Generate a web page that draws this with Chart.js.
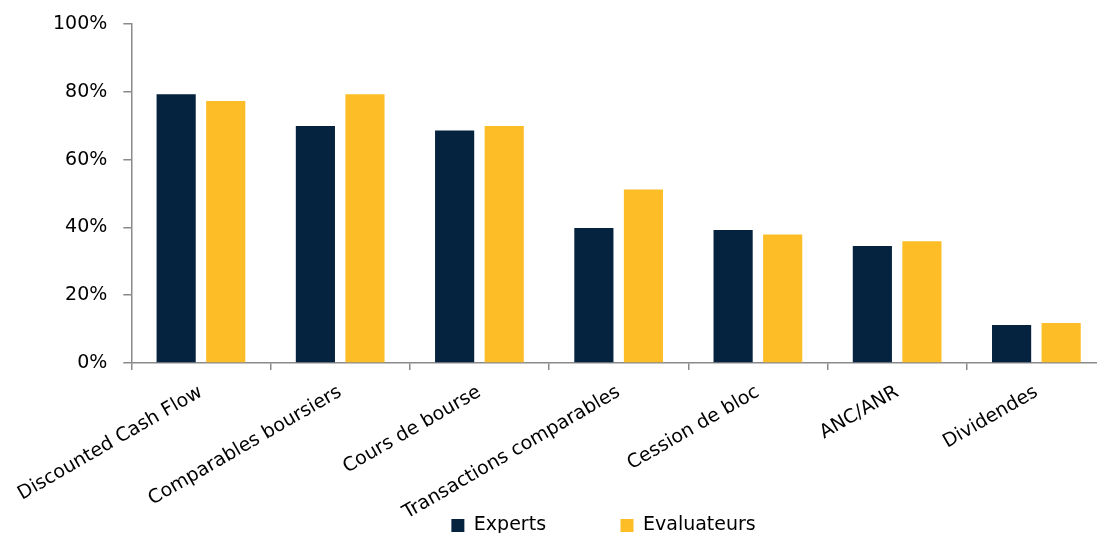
<!DOCTYPE html>
<html>
<head>
<meta charset="utf-8">
<script src="https://cdn.jsdelivr.net/npm/chart.js@4.4.1/dist/chart.umd.min.js"></script>
<style>
  html, body { margin: 0; padding: 0; overflow: hidden; background: #fff; }
</style>
</head>
<body>
<canvas id="chart" width="1110" height="545"></canvas>
<script>
const categories = ['Discounted Cash Flow', 'Comparables boursiers', 'Cours de bourse',
    'Transactions comparables', 'Cession de bloc', 'ANC/ANR', 'Dividendes'];
const experts = [79.3, 69.9, 68.6, 39.8, 39.2, 34.5, 11.2];
const evaluateurs = [77.3, 79.3, 69.9, 51.2, 37.9, 35.9, 11.8];
const yTicks = [0, 20, 40, 60, 80, 100];

const axisGrey = '#8a8a8a';
const font = { family: 'DejaVu Sans', size: 19 };

// spaces pad the legend items so they sit where the original legend had them
const legendPad = [12, 5];

const ctx = document.getElementById('chart').getContext('2d');

new Chart(ctx, {
    type: 'bar',
    data: {
        labels: categories,
        datasets: [{
            label: 'Experts',
            data: experts,
            backgroundColor: '#05223F',
            borderWidth: 0
        }, {
            label: 'Evaluateurs',
            data: evaluateurs,
            backgroundColor: '#FDBD27',
            borderWidth: 0
        }]
    },
    options: {
        responsive: false,
        animation: false,
        categoryPercentage: 0.712,
        barPercentage: 0.79,
        layout: {
            padding: { top: 24, left: 37, right: 4, bottom: 0 }
        },
        scales: {
            x: {
                grid: {
                    drawOnChartArea: false,
                    tickLength: 7,
                    color: axisGrey,
                    lineWidth: 1.5
                },
                border: { color: axisGrey, width: 1.5 },
                ticks: {
                    font: font,
                    color: '#000',
                    padding: 11,
                    minRotation: 30,
                    maxRotation: 30,
                    autoSkip: false
                },
                afterFit: scale => {
                    // legend sits beside the long rotated labels, as in the original
                    scale.height = 151;
                    scale.paddingLeft = 0;
                    scale.paddingRight = 0;
                    scale._computeLabelArea = () => null;
                }
            },
            y: {
                min: 0,
                max: 100,
                afterBuildTicks: scale => { scale.ticks = yTicks.map(v => ({ value: v })); },
                grid: {
                    drawOnChartArea: false,
                    tickLength: 8,
                    color: axisGrey,
                    lineWidth: 1.5
                },
                border: { color: axisGrey, width: 1.5 },
                ticks: {
                    font: font,
                    color: '#000',
                    padding: 16,
                    callback: value => `${value}%`
                },
                afterFit: scale => {
                    scale.paddingTop = 0;
                    scale.paddingBottom = 0;
                }
            }
        },
        plugins: {
            tooltip: { enabled: false },
            legend: {
                position: 'bottom',
                fullSize: false,
                labels: {
                    font: font,
                    color: '#000',
                    boxWidth: 13,
                    boxHeight: 13,
                    padding: 2,
                    generateLabels: chart => Chart.defaults.plugins.legend.labels.generateLabels(chart)
                        .map((item, i) => ({ ...item, text: item.text + ' '.repeat(legendPad[i]) }))
                }
            }
        }
    }
});
</script>
</body>
</html>
